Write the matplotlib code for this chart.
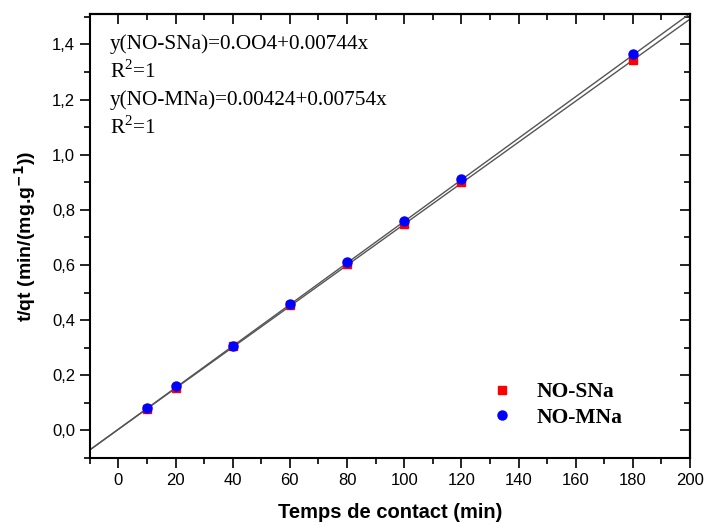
import numpy as np
import matplotlib.pyplot as plt
from matplotlib.ticker import MultipleLocator, FuncFormatter

# temps de contact (min) et t/qt pour les deux adsorbants
temps = [10, 20, 40, 60, 80, 100, 120, 180]
tqt_sna = [0.078, 0.155, 0.305, 0.455, 0.602, 0.750, 0.900, 1.345]
tqt_mna = [0.082, 0.160, 0.308, 0.458, 0.610, 0.760, 0.912, 1.365]

# droites de regression (ordonnee, pente)
fit_sna = (0.004, 0.00744)
fit_mna = (0.00424, 0.00754)

plt.rcParams['mathtext.fontset'] = 'custom'
plt.rcParams['mathtext.rm'] = 'Liberation Serif'

fig = plt.figure(figsize=(7.07, 5.24), dpi=100)
ax = fig.add_axes([0.127, 0.126, 0.849, 0.847])

xx = np.array([-10, 200])
ax.plot(xx, fit_sna[0] + fit_sna[1] * xx, color='#555555', lw=1)
ax.plot(xx, fit_mna[0] + fit_mna[1] * xx, color='#555555', lw=1)

ax.plot(temps, tqt_sna, 's', color='red', ms=5.5, ls='None', label='NO-SNa')
ax.plot(temps, tqt_mna, 'o', color='blue', ms=6.5, ls='None', label='NO-MNa')

ax.set_xlim(-10, 200)
ax.set_ylim(-0.1, 1.51)
ax.xaxis.set_major_locator(MultipleLocator(20))
ax.xaxis.set_minor_locator(MultipleLocator(10))
ax.yaxis.set_major_locator(MultipleLocator(0.2))
ax.yaxis.set_minor_locator(MultipleLocator(0.1))
ax.yaxis.set_major_formatter(FuncFormatter(lambda v, p: ('%.1f' % v).replace('.', ',')))

ax.tick_params(which='major', direction='out', length=7, width=1.2, labelsize=12)
ax.tick_params(which='minor', direction='out', length=4, width=1.2)
for lab in ax.get_xticklabels() + ax.get_yticklabels():
    lab.set_family('Liberation Sans')

# graduations du haut et de droite vers l'interieur
top = ax.secondary_xaxis('top')
top.xaxis.set_major_locator(MultipleLocator(20))
top.xaxis.set_minor_locator(MultipleLocator(10))
top.tick_params(which='major', direction='in', length=7, width=1.2, labeltop=False)
top.tick_params(which='minor', direction='in', length=4, width=1.2)
right = ax.secondary_yaxis('right')
right.yaxis.set_major_locator(MultipleLocator(0.2))
right.yaxis.set_minor_locator(MultipleLocator(0.1))
right.tick_params(which='major', direction='in', length=7, width=1.2, labelright=False)
right.tick_params(which='minor', direction='in', length=4, width=1.2)

for s in ax.spines.values():
    s.set_linewidth(1.5)
top.spines['top'].set_linewidth(1.5)
right.spines['right'].set_linewidth(1.5)

ax.set_xlabel('Temps de contact (min)', fontsize=14.5, fontweight='bold',
              family='Liberation Sans', labelpad=11)
ax.set_ylabel('t/qt (min/(mg.g$^{\\mathbf{-1}}$))', fontsize=14, fontweight='bold',
              family='Liberation Sans', labelpad=10)

txt = ['y(NO-SNa)=0.OO4+0.00744x', 'R$^2$=1',
       'y(NO-MNa)=0.00424+0.00754x', 'R$^2$=1']
for i, t in enumerate(txt):
    ax.text(0.033, 0.933 - i * 0.063, t, transform=ax.transAxes, fontsize=15.3,
            family='Liberation Serif', va='center')

leg = ax.legend(loc='center left', bbox_to_anchor=(0.633, 0.119), frameon=False,
                prop={'family': 'Liberation Serif', 'weight': 'bold', 'size': 15.5},
                handletextpad=1.0, labelspacing=0.25, handlelength=1.2)

fig.savefig('out.png', dpi=100)
